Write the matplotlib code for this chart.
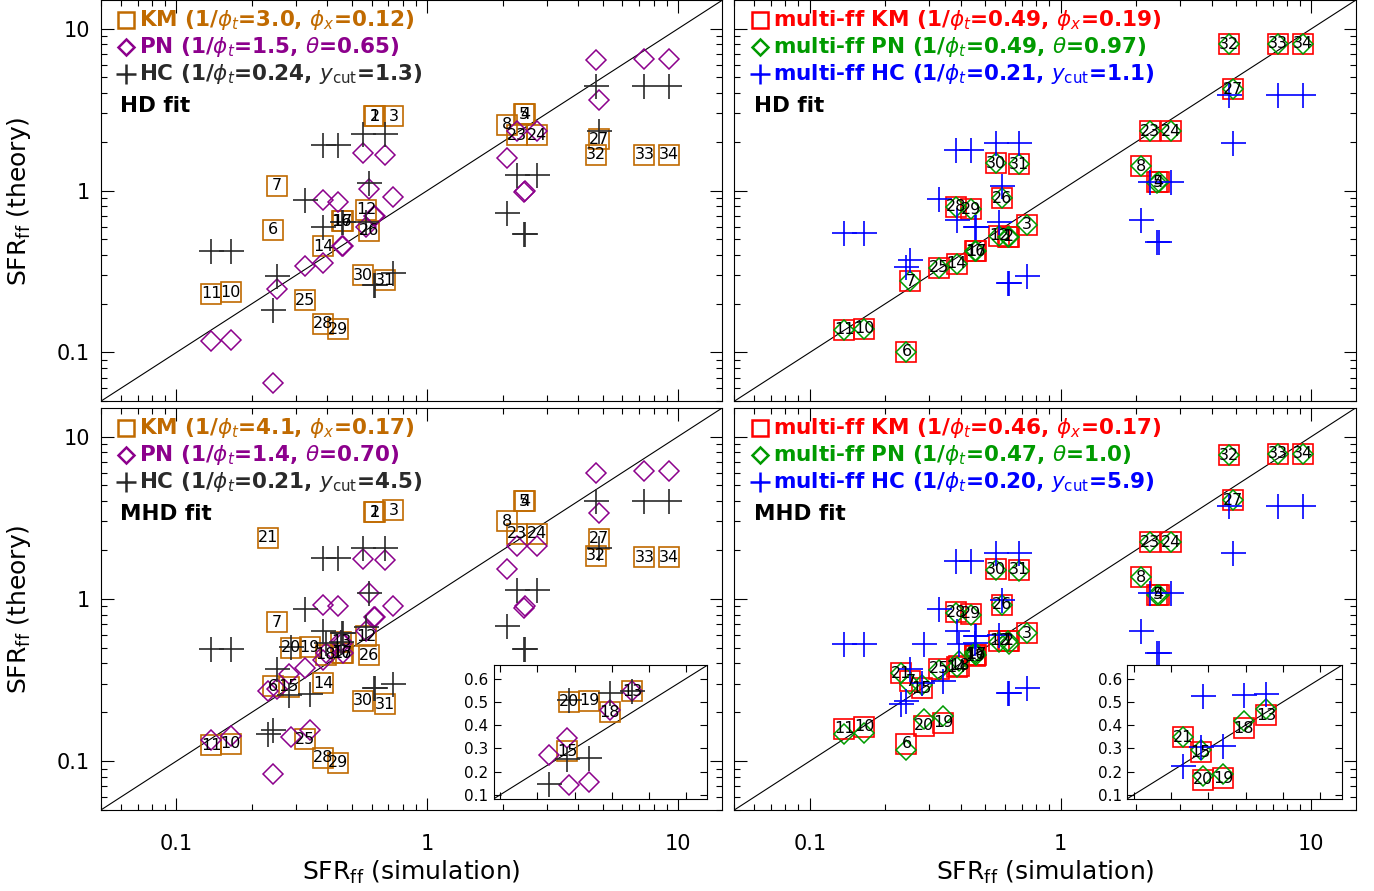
import numpy as np
import matplotlib
matplotlib.use('Agg')
import matplotlib.pyplot as plt
from matplotlib.ticker import FuncFormatter, NullFormatter, FixedLocator

nan = np.nan

# simulations (number, SFR_ff from simulation)
sim_id = [1, 2, 3, 4, 5, 6, 7, 8, 10, 11, 12, 13, 14, 15, 16, 17, 18, 19, 20, 21,
          23, 24, 25, 26, 27, 28, 29, 30, 31, 32, 33, 34]
sim_x = [0.615, 0.62, 0.734, 2.46, 2.43, 0.243, 0.252, 2.09, 0.165, 0.1375, 0.57, 0.455,
         0.386, 0.28, 0.457, 0.46, 0.395, 0.34, 0.286, 0.232,
         2.28, 2.75, 0.327, 0.585, 4.86, 0.383, 0.441, 0.554, 0.68, 4.69, 7.34, 9.23]
# simulations shown again in the zoomed insets
inset_ids = [13, 15, 18, 19, 20, 21]

# theory values, HD fit
hd_km = [2.89, 2.89, 2.89, 2.96, 2.96, 0.573, 1.07, 2.55, 0.235, 0.231, 0.76, nan,
         0.452, nan, 0.647, 0.647, nan, nan, nan, nan,
         2.20, 2.20, 0.21, 0.567, 2.08, 0.15, 0.139, 0.30, 0.279, 1.67, 1.67, 1.67]
hd_pn = [0.70, 0.70, 0.91, 1.0, 0.98, 0.065, 0.248, 1.59, 0.119, 0.117, 0.595, nan,
         0.357, nan, 0.452, 0.452, nan, nan, nan, nan,
         2.34, 2.34, 0.34, 1.02, 3.62, 0.877, 0.848, 1.70, 1.665, 6.37, 6.46, 6.46]
hd_hc = [0.26, 0.26, 0.31, 0.54, 0.54, 0.183, 0.296, 0.73, 0.423, 0.423, 0.638, nan,
         0.595, nan, 0.638, 0.638, nan, nan, nan, nan,
         1.25, 1.25, 0.877, 1.12, 2.34, 1.92, 1.92, 2.23, 2.23, 4.43, 4.43, 4.43]
hd_mkm = [0.52, 0.52, 0.617, 1.125, 1.125, 0.101, 0.275, 1.41, 0.14, 0.138, 0.528, nan,
          0.354, nan, 0.423, 0.423, nan, nan, nan, nan,
          2.32, 2.32, 0.334, 0.90, 4.22, 0.797, 0.77, 1.48, 1.46, 8.0, 8.1, 8.1]
hd_mpn = [0.52, 0.52, 0.617, 1.125, 1.12, 0.101, 0.275, 1.41, 0.14, 0.138, 0.528, nan,
          0.354, nan, 0.423, 0.423, nan, nan, nan, nan,
          2.32, 2.32, 0.334, 0.90, 4.22, 0.797, 0.77, 1.48, 1.46, 8.0, 8.1, 8.1]
hd_mhc = [0.269, 0.269, 0.296, 0.48, 0.48, 0.337, 0.371, 0.66, 0.546, 0.546, 0.638, nan,
          0.66, nan, 0.595, 0.595, nan, nan, nan, nan,
          1.125, 1.125, 0.89, 1.07, 1.98, 1.78, 1.78, 1.98, 1.98, 3.88, 3.88, 3.88]

# theory values, MHD fit
mhd_km = [3.42, 3.42, 3.52, 4.0, 4.0, 0.289, 0.718, 3.01, 0.128, 0.125, 0.587, 0.546,
          0.303, 0.287, 0.463, 0.463, 0.454, 0.505, 0.50, 2.38,
          2.51, 2.51, 0.136, 0.448, 2.34, 0.105, 0.098, 0.235, 0.224, 1.85, 1.81, 1.81]
mhd_pn = [0.77, 0.77, 0.91, 0.90, 0.88, 0.083, 0.28, 1.52, 0.142, 0.135, 0.63, 0.548,
          0.42, 0.344, 0.533, 0.463, 0.466, 0.155, 0.14, 0.27,
          2.11, 2.11, 0.374, 1.08, 3.39, 0.918, 0.90, 1.76, 1.73, 5.98, 6.12, 6.12]
mhd_hc = [0.282, 0.282, 0.298, 0.492, 0.492, 0.155, 0.37, 0.68, 0.492, 0.492, 0.67, 0.545,
          0.63, 0.255, 0.615, 0.615, 0.538, 0.258, 0.507, 0.148,
          1.14, 1.14, 0.868, 1.08, 2.06, 1.79, 1.79, 2.06, 2.06, 4.0, 4.0, 4.0]
mhd_mkm = [0.55, 0.55, 0.612, 1.06, 1.06, 0.128, 0.31, 1.36, 0.163, 0.158, 0.55, 0.442,
           0.38, 0.282, 0.454, 0.454, 0.387, 0.172, 0.165, 0.348,
           2.24, 2.24, 0.37, 0.923, 4.06, 0.828, 0.81, 1.52, 1.51, 7.65, 7.82, 7.82]
mhd_mpn = [0.55, 0.53, 0.612, 1.06, 1.06, 0.117, 0.30, 1.36, 0.15, 0.146, 0.54, 0.47,
           0.38, 0.294, 0.46, 0.45, 0.416, 0.19, 0.182, 0.347,
           2.24, 2.24, 0.365, 0.923, 4.06, 0.82, 0.80, 1.50, 1.49, 7.65, 7.82, 7.82]
mhd_mhc = [0.262, 0.262, 0.282, 0.465, 0.465, 0.235, 0.37, 0.632, 0.524, 0.524, 0.6, 0.535,
           0.63, 0.305, 0.587, 0.587, 0.53, 0.31, 0.524, 0.225,
           1.08, 1.08, 0.86, 0.99, 1.92, 1.71, 1.71, 1.92, 1.92, 3.76, 3.76, 3.76]

tl_legend = [r'KM (1/$\phi_t$=3.0, $\phi_x$=0.12)', r'PN (1/$\phi_t$=1.5, $\theta$=0.65)',
             r'HC (1/$\phi_t$=0.24, $y_{\rm cut}$=1.3)']
tr_legend = [r'multi-ff KM (1/$\phi_t$=0.49, $\phi_x$=0.19)', r'multi-ff PN (1/$\phi_t$=0.49, $\theta$=0.97)',
             r'multi-ff HC (1/$\phi_t$=0.21, $y_{\rm cut}$=1.1)']
bl_legend = [r'KM (1/$\phi_t$=4.1, $\phi_x$=0.17)', r'PN (1/$\phi_t$=1.4, $\theta$=0.70)',
             r'HC (1/$\phi_t$=0.21, $y_{\rm cut}$=4.5)']
br_legend = [r'multi-ff KM (1/$\phi_t$=0.46, $\phi_x$=0.17)', r'multi-ff PN (1/$\phi_t$=0.47, $\theta$=1.0)',
             r'multi-ff HC (1/$\phi_t$=0.20, $y_{\rm cut}$=5.9)']

c_km, c_pn, c_hc = '#C06A00', '#8C008C', '#2A2A2A'
c_mkm, c_mpn, c_mhc = '#FF0000', '#009A00', '#0000FF'

x_all = np.array(sim_x)


def draw_points(ax, km, pn, hc, cols, only=None):
    km, pn, hc = np.array(km), np.array(pn), np.array(hc)
    keep = np.array([only is None or s in only for s in sim_id])
    x = x_all[keep]
    km, pn, hc = km[keep], pn[keep], hc[keep]
    ids = [s for s, k in zip(sim_id, keep) if k]
    ax.plot(x, km, ls='none', marker='s', ms=14, mfc='none', mec=cols[0], mew=1.2)
    ax.plot(x, pn, ls='none', marker='D', ms=10, mfc='none', mec=cols[1], mew=1.1)
    ax.plot(x, hc, ls='none', marker='+', ms=18, mec=cols[2], mew=1.2)
    for i, s in enumerate(ids):
        if np.isfinite(km[i]):
            ax.text(x[i], km[i], str(s), ha='center', va='center', fontsize=11.5,
                    clip_on=True)


def panel(rect, km, pn, hc, cols, legend, fit, xlab, ylab):
    ax = fig.add_axes(rect)
    ax.set_xscale('log')
    ax.set_yscale('log')
    ax.set_xlim(0.05, 15)
    ax.set_ylim(0.05, 15)
    ax.plot([0.05, 15], [0.05, 15], color='k', lw=0.8)
    draw_points(ax, km, pn, hc, cols)
    fmt = FuncFormatter(lambda v, p: '%g' % v)
    ax.xaxis.set_major_formatter(fmt)
    ax.yaxis.set_major_formatter(fmt)
    ax.xaxis.set_minor_formatter(NullFormatter())
    ax.yaxis.set_minor_formatter(NullFormatter())
    ax.tick_params(which='both', direction='in', top=True, right=True, width=0.8,
                   labelsize=15, labelbottom=xlab, labelleft=ylab)
    ax.tick_params(which='major', length=9)
    ax.tick_params(which='minor', length=4.5)
    ax.tick_params(axis='x', pad=17)
    ax.tick_params(axis='y', pad=8)
    for sp in ax.spines.values():
        sp.set_linewidth(0.8)
    marks = [('s', 12, 1.8), ('D', 8.5, 1.8), ('+', 14, 1.8)]
    for k in range(3):
        m, ms, mw = marks[k]
        ax.plot([0.041], [0.950 - 0.067 * k], transform=ax.transAxes, ls='none',
                marker=m, ms=ms, mfc='none', mec=cols[k], mew=mw, clip_on=False)
        ax.text(0.062, 0.950 - 0.067 * k, legend[k], transform=ax.transAxes, color=cols[k],
                fontsize=15.5, fontweight='bold', ha='left', va='center')
    ax.text(0.031, 0.736, fit, transform=ax.transAxes, fontsize=15.5, fontweight='bold',
            ha='left', va='center')
    return ax


def inset(rect, km, pn, hc, cols):
    ax = fig.add_axes(rect)
    ax.set_facecolor('white')
    ax.set_xlim(0.083, 0.657)
    ax.set_ylim(0.083, 0.657)
    ax.plot([0.083, 0.657], [0.083, 0.657], color='k', lw=0.8)
    draw_points(ax, km, pn, hc, cols, only=inset_ids)
    ticks = [0.1, 0.2, 0.3, 0.4, 0.5, 0.6]
    ax.xaxis.set_major_locator(FixedLocator(ticks))
    ax.yaxis.set_major_locator(FixedLocator(ticks))
    ax.yaxis.set_major_formatter(FuncFormatter(lambda v, p: '%.1f' % v))
    ax.tick_params(direction='in', top=True, right=True, length=5, width=0.8,
                   labelbottom=False, labelsize=11, pad=4)
    for sp in ax.spines.values():
        sp.set_linewidth(0.8)
    return ax


fig = plt.figure(figsize=(13.74, 8.91), dpi=100)

L, R, W = 0.0734, 0.5344, 0.4522
panel([L, 0.5497, W, 0.4500], hd_km, hd_pn, hd_hc, (c_km, c_pn, c_hc), tl_legend, 'HD fit', False, True)
panel([R, 0.5497, W, 0.4500], hd_mkm, hd_mpn, hd_mhc, (c_mkm, c_mpn, c_mhc), tr_legend, 'HD fit', False, False)
panel([L, 0.0909, W, 0.4512], mhd_km, mhd_pn, mhd_hc, (c_km, c_pn, c_hc), bl_legend, 'MHD fit', True, True)
panel([R, 0.0909, W, 0.4512], mhd_mkm, mhd_mpn, mhd_mhc, (c_mkm, c_mpn, c_mhc), br_legend, 'MHD fit', True, False)

inset([0.3595, 0.1036, 0.1552, 0.1497], mhd_km, mhd_pn, mhd_hc, (c_km, c_pn, c_hc))
inset([0.8205, 0.1036, 0.1560, 0.1497], mhd_mkm, mhd_mpn, mhd_mhc, (c_mkm, c_mpn, c_mhc))

for xc in (L + W / 2, R + W / 2):
    fig.text(xc, 0.006, r'SFR$_{\rm ff}$ (simulation)', ha='center', va='bottom', fontsize=18)
for yc in (0.5497 + 0.4500 / 2, 0.0909 + 0.4512 / 2):
    fig.text(0.004, yc, r'SFR$_{\rm ff}$ (theory)', ha='left', va='center', rotation=90,
             fontsize=18)

fig.savefig('out.png', dpi=100)
